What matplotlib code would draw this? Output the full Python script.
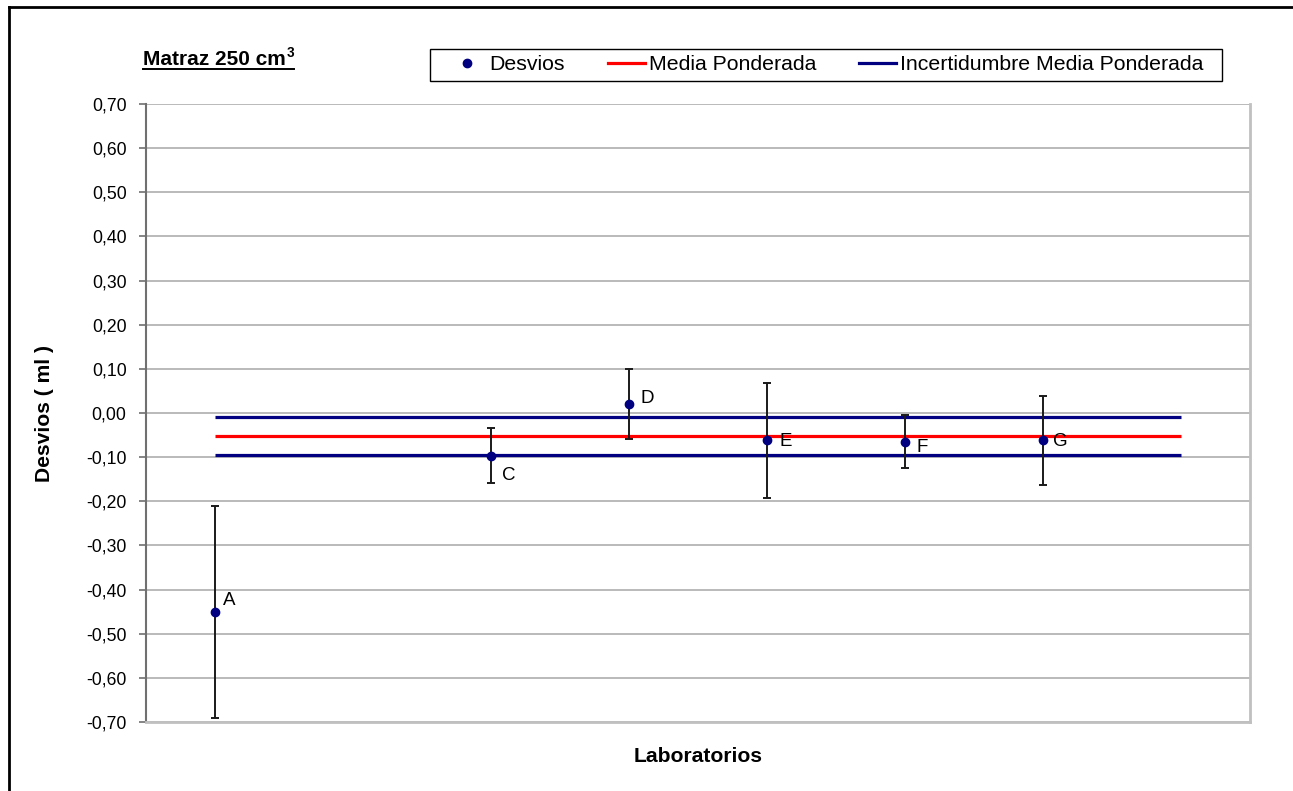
import matplotlib
matplotlib.use("Agg")
import matplotlib.pyplot as plt
from matplotlib.lines import Line2D
from matplotlib.patches import Rectangle
from matplotlib.ticker import FixedLocator, FuncFormatter
import numpy as np

# ---- data ----
labs = ["A", "B", "C", "D", "E", "F", "G", "H"]
desvios = [-0.45, np.nan, -0.097, 0.02, -0.062, -0.065, -0.062, np.nan]
errores = [0.24, np.nan, 0.062, 0.08, 0.13, 0.06, 0.10, np.nan]
media_ponderada = -0.052
inc_sup = -0.008
inc_inf = -0.096
yticks = [round(-0.7 + 0.1 * i, 2) for i in range(15)]
title_text = "Matraz 250 cm"
title_sup = "3"
xlabel = "Laboratorios"
ylabel = "Desvios ( ml )"
legend_labels = ["Desvios", "Media Ponderada", "Incertidumbre Media Ponderada"]

plt.rcParams["font.family"] = ["Liberation Sans", "DejaVu Sans"]

W, H = 1293, 791
fig = plt.figure(figsize=(W / 100, H / 100), dpi=100)
fig.patch.set_facecolor("white")

def fx(px):
    return px / W

def fy(py):
    return 1 - py / H

ax = fig.add_axes([fx(146), fy(722), fx(1250) - fx(146), fy(104) - fy(722)])

x = np.arange(1, len(labs) + 1)
ax.set_xlim(0.5, len(labs) + 0.5)
ax.set_ylim(-0.7, 0.7)

# grid
grid_col = "#b4b4b4"
for t in yticks:
    ax.axhline(t, color=grid_col, lw=1.3, zorder=1)

# lines
ax.plot([x[0], x[-1]], [inc_sup, inc_sup], color="#000080", lw=2.3, zorder=3, solid_capstyle="butt")
ax.plot([x[0], x[-1]], [inc_inf, inc_inf], color="#000080", lw=2.3, zorder=3, solid_capstyle="butt")
ax.plot([x[0], x[-1]], [media_ponderada, media_ponderada], color="#ff0000", lw=2.3, zorder=3, solid_capstyle="butt")

# points with error bars
d = np.array(desvios, dtype=float)
e = np.array(errores, dtype=float)
m = ~np.isnan(d)
ax.errorbar(x[m], d[m], yerr=e[m], fmt="none", ecolor="#1a1a1a", elinewidth=1.4,
            capsize=2.8, capthick=1.4, zorder=4)
ax.plot(x[m], d[m], "o", color="#000080", markersize=6, zorder=5, linestyle="none")

# data labels
label_off = {"A": (6, 8), "C": (8, -14), "D": (8, 4), "E": (9, -1), "F": (8, -4), "G": (7, -1)}
for xi, yi, lab in zip(x, desvios, labs):
    if np.isnan(yi):
        continue
    dx, dy = label_off.get(lab, (8, 0))
    ax.annotate(lab, (xi, yi), xytext=(dx, dy), textcoords="offset points",
                ha="left", va="center", fontsize=13.5, color="black", zorder=6)

# axes styling
ax.set_xticks([])
ax.yaxis.set_major_locator(FixedLocator(yticks))
ax.yaxis.set_major_formatter(FuncFormatter(lambda v, p: f"{v:.2f}".replace(".", ",").replace("-0,00", "0,00")))
ax.tick_params(axis="y", direction="out", length=5, width=1.2, color="#707070",
               labelsize=12.7, pad=9)
ax.spines["left"].set_color("#707070")
ax.spines["left"].set_linewidth(1.5)
ax.spines["right"].set_color("#c0c0c0")
ax.spines["right"].set_linewidth(2)
ax.spines["bottom"].set_color("#c0c0c0")
ax.spines["bottom"].set_linewidth(2)
ax.spines["top"].set_visible(False)
ax.set_facecolor("white")

fig.text(fx(45), 0.5 * (fy(104) + fy(722)), ylabel, fontsize=15.2, fontweight="bold",
         rotation=90, ha="center", va="center")
fig.text(0.5 * (fx(146) + fx(1250)), fy(756), xlabel, fontsize=15.2, fontweight="bold",
         ha="center", va="center")

# legend
handles = [
    Line2D([], [], marker="o", color="#000080", linestyle="none", markersize=6),
    Line2D([], [], color="#ff0000", lw=2.3),
    Line2D([], [], color="#000080", lw=2.3),
]
fig.add_artist(Rectangle((fx(430), fy(81)), fx(1222) - fx(430), fy(49) - fy(81),
                         transform=fig.transFigure, facecolor="white", edgecolor="black",
                         lw=1.0, zorder=2))
leg = fig.legend(handles, legend_labels, loc="center",
                 bbox_to_anchor=(fx(826), fy(65)), ncol=3, fontsize=15.3,
                 frameon=False, handlelength=1.75, handletextpad=0.2,
                 columnspacing=2.0, borderpad=0.3, borderaxespad=0)
leg.set_zorder(3)

# title with superscript and underline
t1 = fig.text(fx(143), fy(65), title_text, fontsize=15, fontweight="bold",
              ha="left", va="baseline")
fig.canvas.draw()
r = fig.canvas.get_renderer()
bb = t1.get_window_extent(r)
t2 = fig.text(bb.x1 / W + fx(1), fy(57), title_sup, fontsize=9.8, fontweight="bold",
              ha="left", va="baseline")
fig.canvas.draw()
bb2 = t2.get_window_extent(r)
fig.add_artist(Line2D([fx(143), bb2.x1 / W], [fy(68.5), fy(68.5)], color="black", lw=1.4,
                      transform=fig.transFigure))

# outer frame (left and top visible)
fig.add_artist(Line2D([fx(9), fx(9)], [fy(7), -0.01], color="black", lw=2, transform=fig.transFigure))
fig.add_artist(Line2D([fx(9), 1.01], [fy(7), fy(7)], color="black", lw=2, transform=fig.transFigure))

fig.savefig("out.png", dpi=100, facecolor="white")
